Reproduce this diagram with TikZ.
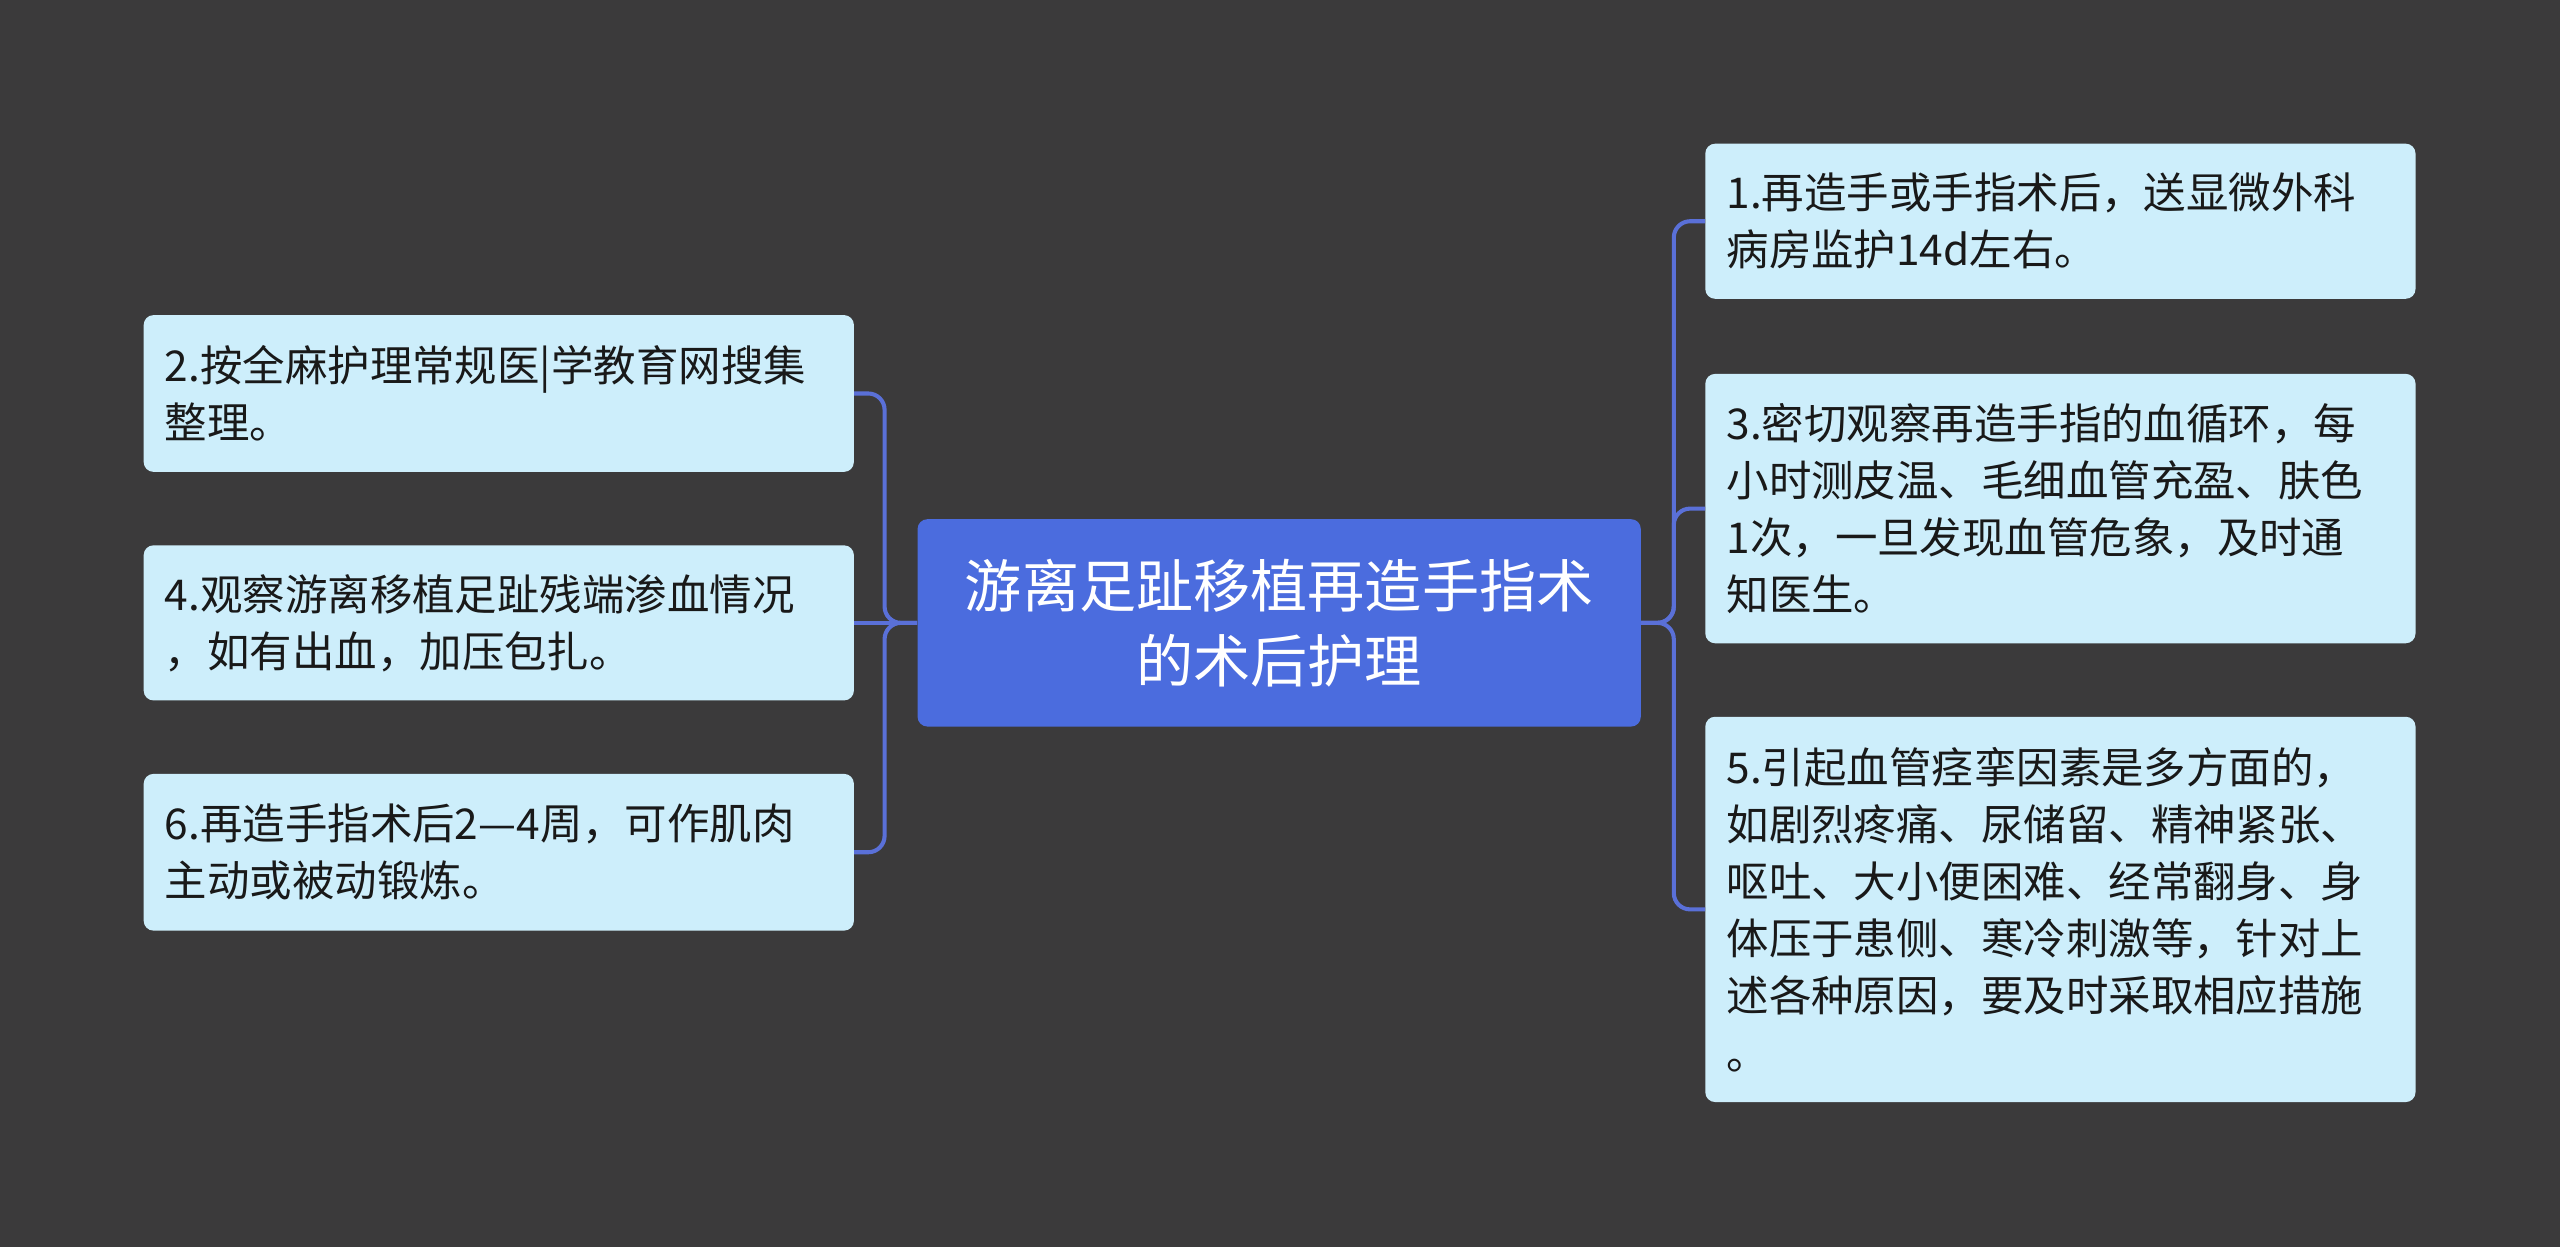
\documentclass[tikz,border=0pt]{standalone}
\usepackage{fontspec}
\setmainfont{Noto Sans CJK SC}
\begin{document}
\begin{tikzpicture}[x=1pt,y=-1pt,
  leaf/.style={fill=leafc,rounded corners=6,minimum width=435,text width=409,align=left,inner sep=0pt,font=\fontsize{26}{35}\selectfont,text=black!90},
  conn/.style={draw=linec,line width=2.5,rounded corners=10}]
\definecolor{bgc}{HTML}{3B3A3B}
\definecolor{leafc}{HTML}{CDEEFB}
\definecolor{linec}{HTML}{5A70D8}
\definecolor{rootc}{HTML}{4B6CDE}
\fill[bgc] (0,0) rectangle (1568,764);
\useasboundingbox (0,0) rectangle (1568,764);
\node[fill=rootc,rounded corners=6,minimum width=443,minimum height=127,align=center,text=white,font=\fontsize{35}{46}\selectfont] (c) at (783.5,381.5) {游离足趾移植再造手指术\\的术后护理};
\node[leaf,minimum height=96] (l1) at (305.5,241) {2.按全麻护理常规医|学教育网搜集\\整理。};
\node[leaf,minimum height=95] (l2) at (305.5,381.5) {4.观察游离移植足趾残端渗血情况\\，如有出血，加压包扎。};
\node[leaf,minimum height=96] (l3) at (305.5,522) {6.再造手指术后2—4周，可作肌肉\\主动或被动锻炼。};
\node[leaf,minimum height=95] (r1) at (1262,135.5) {1.再造手或手指术后，送显微外科\\病房监护14d左右。};
\node[leaf,minimum height=165] (r2) at (1262,311.5) {3.密切观察再造手指的血循环，每\\小时测皮温、毛细血管充盈、肤色\\1次，一旦发现血管危象，及时通\\知医生。};
\node[leaf,minimum height=236] (r3) at (1262,557) {5.引起血管痉挛因素是多方面的，\\如剧烈疼痛、尿储留、精神紧张、\\呕吐、大小便困难、经常翻身、身\\体压于患侧、寒冷刺激等，针对上\\述各种原因，要及时采取相应措施\\。};
\draw[conn] (c.west) -- ++(-20,0) |- (l1.east);
\draw[conn] (c.west) -- (l2.east);
\draw[conn] (c.west) -- ++(-20,0) |- (l3.east);
\draw[conn] (c.east) -- ++(20,0) |- (r1.west);
\draw[conn] (c.east) -- ++(20,0) |- (r2.west);
\draw[conn] (c.east) -- ++(20,0) |- (r3.west);
\end{tikzpicture}
\end{document}
